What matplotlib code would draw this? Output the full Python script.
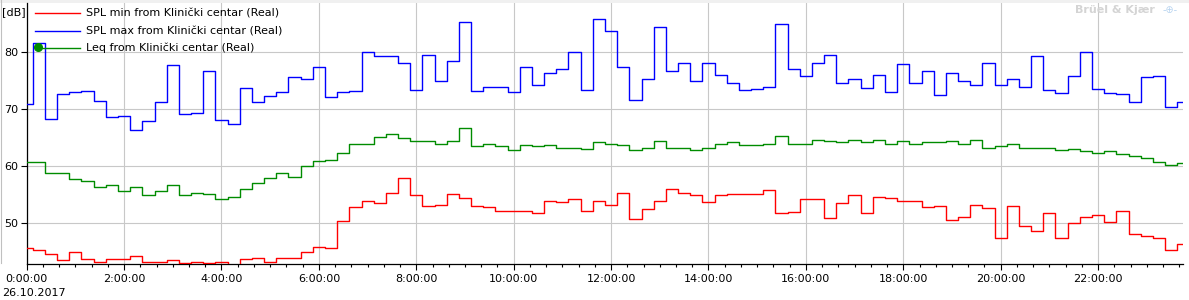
import matplotlib
matplotlib.use("Agg")
import matplotlib.pyplot as plt
from matplotlib.lines import Line2D
import numpy as np

# ---- data (15-minute values, 26.10.2017) ----
hours = [k * 0.25 for k in range(96)]

spl_max = [71.0, 81.6, 68.3, 72.7, 73.0, 73.2, 71.4, 68.6, 68.8, 66.3, 67.9, 71.2, 77.7, 69.2, 69.4, 76.7,
           68.1, 67.4, 73.7, 71.2, 72.3, 73.0, 75.6,
           75.3, 77.4, 72.1, 73.0, 73.2, 80.0, 79.3, 79.3, 78.1, 73.3, 79.6, 75.0, 78.4, 85.4, 73.2, 74.0,
           74.0, 73.0, 77.5, 74.2, 76.3, 77.0, 80.0,
           73.3, 85.8, 83.7, 77.4, 71.6, 75.4, 84.4, 76.7, 78.2, 74.9, 78.1, 76.0, 74.6, 73.3, 73.5, 74.0,
           84.9, 77.0, 75.8, 78.2, 79.5, 74.7, 75.3, 73.7, 76.1,
           73.0, 77.9, 74.7, 76.8, 72.5, 76.3, 75.0, 74.2, 78.1, 74.2, 75.3, 74.0, 79.3, 73.3, 72.8, 75.8,
           80.0, 73.5, 72.8, 72.6, 71.2, 75.6, 75.8, 70.4, 71.2]

spl_min = [45.6, 45.4, 44.6, 43.5, 44.9, 43.7, 43.3, 43.7, 43.7, 44.2, 43.2, 43.2, 43.5, 43.0, 43.3, 43.0,
           43.3, 42.5, 43.7, 43.9, 43.2, 44.0, 44.0,
           44.9, 45.8, 45.6, 50.4, 52.8, 54.0, 53.5, 55.4, 57.9, 54.9, 53.0, 53.3, 55.1, 54.4, 53.0, 52.8,
           52.1, 52.1, 52.1, 51.8, 54.0, 53.7, 54.2,
           52.1, 53.9, 53.3, 55.4, 50.7, 52.5, 53.9, 56.1, 55.4, 54.9, 53.7, 54.9, 55.1, 55.1, 55.1, 55.8,
           51.8, 51.9, 54.2, 54.2, 50.9, 53.5, 54.9, 51.8, 54.6,
           54.4, 54.0, 54.0, 52.8, 53.0, 50.5, 51.1, 53.2, 52.6, 47.5, 53.0, 49.6, 48.6, 51.8, 47.4, 50.0,
           51.1, 51.4, 50.2, 52.1, 48.1, 47.7, 47.4, 45.4, 46.3]

leq = [60.7, 60.7, 58.9, 58.9, 57.7, 57.4, 56.3, 56.8, 55.6, 56.3, 54.9, 55.6, 56.8, 54.9, 55.3, 55.1,
       54.2, 54.7, 56.1, 57.0, 57.9, 58.8, 58.1,
       60.0, 60.9, 61.1, 62.3, 64.0, 63.9, 65.1, 65.6, 64.9, 64.4, 64.4, 63.9, 64.4, 66.8, 63.5, 63.9,
       63.5, 62.8, 63.7, 63.5, 63.7, 63.2, 63.2,
       63.0, 64.2, 63.9, 63.7, 62.8, 63.3, 64.4, 63.2, 63.2, 62.8, 63.3, 64.0, 64.2, 63.7, 63.7, 63.9,
       65.3, 64.0, 64.0, 64.6, 64.4, 64.2, 64.7, 64.2, 64.6,
       63.9, 64.4, 64.0, 64.2, 64.2, 64.4, 64.0, 64.6, 63.2, 63.5, 63.9, 63.2, 63.2, 63.3, 62.8, 63.0,
       62.6, 62.3, 62.6, 62.1, 61.8, 61.4, 60.7, 60.2, 60.5]

series_labels = ["SPL min from Klinički centar (Real)",
                 "SPL max from Klinički centar (Real)",
                 "Leq from Klinički centar (Real)"]
x_tick_pos = [0, 2, 4, 6, 8, 10, 12, 14, 16, 18, 20, 22]
x_tick_labels = ["0:00:00", "2:00:00", "4:00:00", "6:00:00", "8:00:00", "10:00:00",
                 "12:00:00", "14:00:00", "16:00:00", "18:00:00", "20:00:00", "22:00:00"]
y_ticks = [50, 60, 70, 80]
date_label = "26.10.2017"

# ---- styling ----
plt.rcParams['font.family'] = ['DejaVu Sans']
W, H = 1189, 300
fig = plt.figure(figsize=(W / 100, H / 100), dpi=100)
fig.patch.set_facecolor('white')

left, right, bottom_px, top_px = 26.7, 1183.3, 264.3, 3.0
ax = fig.add_axes([left / W, 1 - bottom_px / H, (right - left) / W, (bottom_px - top_px) / H])

c_min, c_max, c_leq = '#ff0000', '#0000ff', '#008c00'
lw = 1.0
ax.step(hours, spl_min, where='mid', color=c_min, lw=lw, zorder=3)
ax.step(hours, spl_max, where='mid', color=c_max, lw=lw, zorder=3)
ax.step(hours, leq, where='mid', color=c_leq, lw=lw, zorder=3)

ax.set_xlim(0, 23.75)
ax.set_ylim(42.81, 88.65)

ax.set_xticks(x_tick_pos)
ax.set_xticklabels(x_tick_labels, fontsize=8)
ax.set_xticks(np.arange(0, 23.75, 1 / 3), minor=True)
ax.set_yticks(y_ticks)
ax.set_yticklabels([str(v) for v in y_ticks], fontsize=8)
ax.tick_params(axis='x', which='major', length=4, width=0.8, direction='out', pad=3)
ax.tick_params(axis='x', which='minor', length=2.2, width=0.8, direction='out')
ax.tick_params(axis='y', which='major', length=4, width=0.8, direction='out', pad=2)

ax.grid(True, which='major', color='#c8c8c8', lw=0.8, zorder=0)
for s in ['top', 'right']:
    ax.spines[s].set_visible(False)
for s in ['left', 'bottom']:
    ax.spines[s].set_linewidth(0.9)
    ax.spines[s].set_color('black')

# ---- legend drawn in pixel coordinates ----
def px(x, y):
    return x / W, 1 - y / H

legend_rows = [(13.3, c_min), (31.0, c_max), (47.7, c_leq)]
for (yy, col), lab in zip(legend_rows, series_labels):
    x0, y0 = px(35, yy)
    x1, _ = px(80, yy)
    fig.add_artist(Line2D([x0, x1], [y0, y0], color=col, lw=lw, transform=fig.transFigure, zorder=5))
    tx, ty = px(86, yy)
    fig.text(tx, ty, lab, fontsize=8, va='center', ha='left', color='black')
mx, my = px(38, 47)
fig.add_artist(Line2D([mx], [my], marker='o', color=c_leq, markersize=5.5, lw=0, transform=fig.transFigure, zorder=6))

# axis unit and date
fx, fy = px(2, 12.5)
fig.text(fx, fy, "[dB]", fontsize=8, va='center', ha='left')
fx, fy = px(2, 293)
fig.text(fx, fy, date_label, fontsize=8, va='center', ha='left')

# watermark
fx, fy = px(1155, 10)
fig.text(fx, fy, "Brüel & Kjær", fontsize=8, fontweight='bold', color='#d4d4d4', va='center', ha='right')
fx, fy = px(1170, 10)
fig.text(fx, fy, "-⊕-", fontsize=7, color='#b8d4f0', va='center', ha='center')

# window frame bits
fig.add_artist(plt.Rectangle((0, 1 - 2.7 / H), 1, 2.7 / H, transform=fig.transFigure,
                             facecolor='#f0f0f0', edgecolor='none', zorder=0))
fig.add_artist(Line2D([0.5 / W, 0.5 / W], [1 - 263 / H, 1], color='#c0c0c0', lw=0.8, transform=fig.transFigure))

fig.savefig("out.png", dpi=100)
